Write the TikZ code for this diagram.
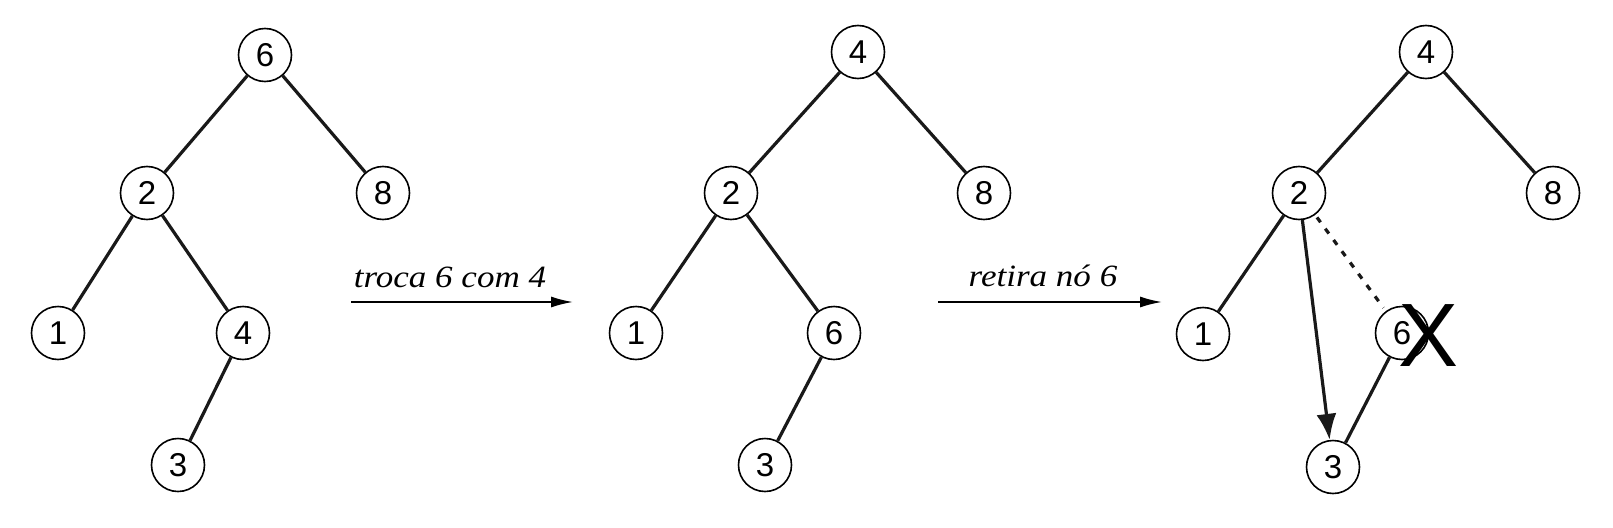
\documentclass[tikz,border=0pt]{standalone}
\usepackage{fontspec}
\setmainfont{Liberation Serif}
\newfontfamily\helv{Liberation Sans}
\usetikzlibrary{arrows.meta}
\tikzset{
  tnode/.style={draw, circle, minimum size=53pt, inner sep=0pt, line width=1.6pt, fill=white, font=\helv\fontsize{33}{36}\selectfont},
  tedge/.style={line width=3.2pt, black!90},
  steparrow/.style={line width=1.8pt, -{Latex[length=22pt,width=11pt]}},
  steplabel/.style={anchor=base, inner sep=0pt},
}
\newcommand{\lbltxt}[1]{\scalebox{1.13}[1]{\fontsize{31}{34}\selectfont\itshape #1}}
\begin{document}
\begin{tikzpicture}[x=1pt,y=-1pt]
\useasboundingbox (0,0) rectangle (1613,527);
% tree 1
\node[tnode] (a6) at (265,55) {6};
\node[tnode] (a2) at (147,193) {2};
\node[tnode] (a8) at (383,193) {8};
\node[tnode] (a1) at (58,333) {1};
\node[tnode] (a4) at (243,333) {4};
\node[tnode] (a3) at (178,465) {3};
\draw[tedge] (a6) -- (a2);
\draw[tedge] (a6) -- (a8);
\draw[tedge] (a2) -- (a1);
\draw[tedge] (a2) -- (a4);
\draw[tedge] (a4) -- (a3);
% arrow 1
\coordinate (s1) at (351,302);
\coordinate (e1) at (573,302);
\draw[steparrow] (s1) -- (e1);
\node[steplabel] (l1) at (450,287) {\lbltxt{troca 6 com 4}};
% tree 2
\node[tnode] (b4) at (858,52) {4};
\node[tnode] (b2) at (731,193) {2};
\node[tnode] (b8) at (984,193) {8};
\node[tnode] (b1) at (636,333) {1};
\node[tnode] (b6) at (834,333) {6};
\node[tnode] (b3) at (765,465) {3};
\draw[tedge] (b4) -- (b2);
\draw[tedge] (b4) -- (b8);
\draw[tedge] (b2) -- (b1);
\draw[tedge] (b2) -- (b6);
\draw[tedge] (b6) -- (b3);
% arrow 2
\coordinate (s2) at (938,302);
\coordinate (e2) at (1162,302);
\draw[steparrow] (s2) -- (e2);
\node[steplabel] (l2) at (1043,286) {\lbltxt{retira nó 6}};
% tree 3
\node[tnode] (c4) at (1426,52) {4};
\node[tnode] (c2) at (1299,193) {2};
\node[tnode] (c8) at (1553,193) {8};
\node[tnode] (c1) at (1203,334) {1};
\node[tnode] (c6) at (1402,333) {6};
\node[tnode] (c3) at (1333,467) {3};
\draw[tedge] (c4) -- (c2);
\draw[tedge] (c4) -- (c8);
\draw[tedge] (c2) -- (c1);
\draw[tedge, dash pattern=on 6pt off 8pt, shorten <=3pt, shorten >=4pt] (c2) -- (c6);
\draw[tedge] (c6) -- (c3);
\draw[tedge, -{Latex[length=26pt,width=20pt]}] (c2) -- (c3);
\node[font=\helv\fontsize{90}{90}\selectfont, inner sep=0pt] (cx) at (1428,336) {X};
\end{tikzpicture}
\end{document}
